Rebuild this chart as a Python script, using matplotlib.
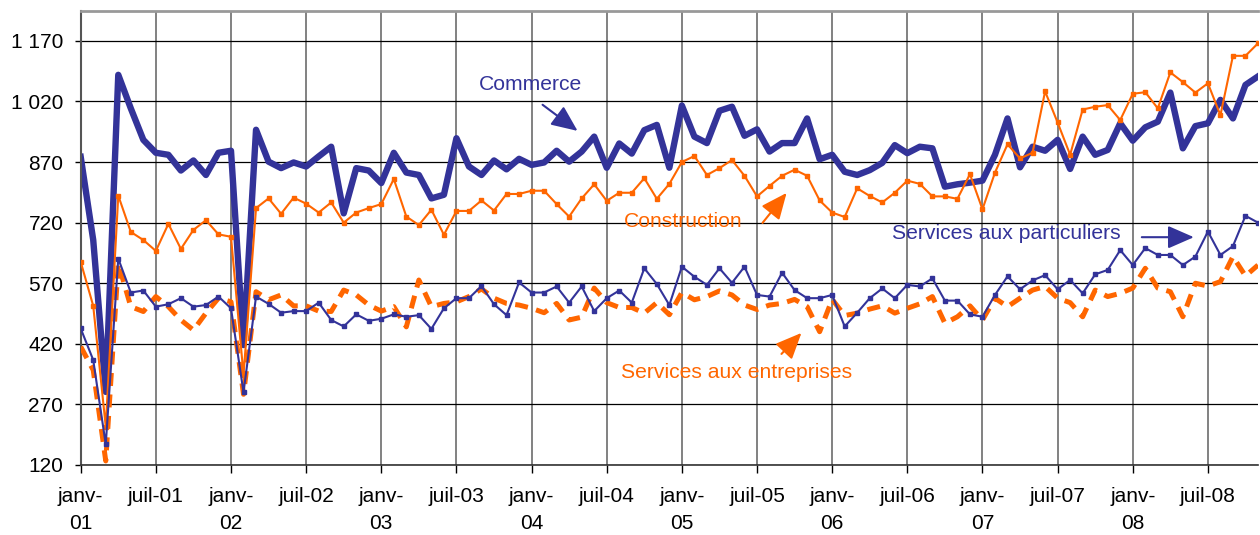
import matplotlib
matplotlib.use("Agg")
import matplotlib.pyplot as plt
import numpy as np
from matplotlib.ticker import FuncFormatter

# ── données (indices mensuels, janv-01 → nov-08) ─────────────────────────────
commerce = [
    883, 677, 301, 1086, 1003, 925, 893, 888, 849, 874, 838, 893,
    898, 417, 950, 871, 855, 869, 859, 884, 908, 743, 855, 849,
    818, 893, 844, 838, 780, 789, 929, 859, 838, 874, 852, 878,
    863, 869, 898, 871, 896, 933, 856, 916, 891, 949, 962, 856,
    1010, 933, 917, 997, 1007, 935, 951, 896, 917, 917, 978, 877,
    888, 846, 838, 850, 868, 912, 892, 908, 904, 809, 815, 819,
    824, 888, 978, 857, 908, 898, 925, 853, 933, 888, 900, 966,
    923, 956, 970, 1042, 904, 959, 966, 1024, 978, 1061, 1082,
]
construction = [
    623, 514, 215, 787, 697, 677, 650, 717, 655, 702, 726, 691,
    685, 343, 756, 780, 742, 782, 767, 745, 770, 720, 745, 756,
    766, 828, 735, 714, 752, 690, 749, 749, 775, 750, 791, 791,
    799, 799, 766, 735, 780, 815, 774, 794, 794, 830, 779, 816,
    870, 885, 838, 855, 875, 836, 785, 811, 836, 851, 836, 775,
    745, 734, 805, 786, 770, 794, 824, 816, 785, 785, 779, 840,
    753, 844, 914, 879, 893, 1045, 968, 888, 1000, 1007, 1011, 974,
    1039, 1043, 1003, 1092, 1068, 1042, 1065, 986, 1133, 1133, 1164,
]
serv_particuliers = [
    458, 380, 171, 631, 547, 552, 512, 518, 533, 512, 516, 537,
    508, 300, 537, 519, 497, 501, 501, 522, 479, 463, 493, 477,
    482, 493, 487, 491, 457, 508, 533, 533, 563, 518, 491, 572,
    547, 547, 562, 522, 562, 501, 533, 552, 522, 607, 568, 516,
    611, 586, 566, 607, 571, 611, 541, 537, 596, 553, 533, 533,
    541, 463, 497, 533, 557, 533, 566, 562, 582, 527, 527, 493,
    487, 541, 587, 555, 577, 590, 555, 578, 545, 592, 603, 652,
    615, 657, 640, 640, 615, 636, 698, 640, 662, 737, 720,
]
serv_entreprises = [
    413, 355, 130, 619, 512, 500, 537, 512, 479, 454, 496, 533,
    524, 295, 549, 529, 541, 514, 514, 501, 500, 553, 541, 516,
    501, 512, 462, 578, 512, 520, 524, 537, 556, 533, 520, 516,
    508, 497, 520, 479, 486, 558, 522, 510, 510, 496, 522, 492,
    547, 529, 537, 551, 541, 516, 505, 516, 520, 530, 512, 450,
    530, 490, 496, 506, 514, 496, 508, 519, 537, 471, 487, 514,
    479, 533, 512, 533, 553, 562, 533, 522, 487, 553, 537, 545,
    558, 607, 558, 549, 487, 570, 563, 574, 636, 588, 615,
]
tick_labels = [
    "janv-\n01", "juil-01", "janv-\n02", "juil-02", "janv-\n03", "juil-03",
    "janv-\n04", "juil-04", "janv-\n05", "juil-05", "janv-\n06", "juil-06",
    "janv-\n07", "juil-07", "janv-\n08", "juil-08",
]

BLUE = "#333399"
ORANGE = "#FF6600"

plt.rcParams["font.family"] = ["Liberation Sans", "DejaVu Sans"]

fig = plt.figure(figsize=(12.6, 5.35), dpi=100)
ax = fig.add_axes([80.7 / 1260, 70 / 535, (1258 - 80.7) / 1260, 454 / 535])

x = np.arange(len(commerce))
ax.plot(x, commerce, color=BLUE, lw=4.6, solid_joinstyle="round", zorder=2)
ax.plot(x, construction, color=ORANGE, lw=1.5, marker="s", ms=3.0, zorder=3)
ax.plot(x, serv_entreprises, color=ORANGE, lw=3.6, dashes=(2.6, 1.7), zorder=4)
ax.plot(x, serv_particuliers, color=BLUE, lw=1.5, marker="s", ms=3.0, zorder=5)

ax.set_xlim(0, 94)
ax.set_ylim(120, 1244)
ax.set_yticks(np.arange(120, 1171, 150))
ax.yaxis.set_major_formatter(FuncFormatter(lambda v, _: f"{v:,.0f}".replace(",", " ")))

ax.tick_params(axis="x", direction="out", length=6, width=1, pad=10, labelsize=15)
ax.tick_params(axis="y", direction="out", length=4.5, width=1, pad=8, labelsize=15)
ax.set_xticks(np.arange(0, 95, 6))
ax.set_xticklabels(tick_labels, linespacing=1.5)

ax.set_axisbelow(True)
ax.grid(axis="y", color="black", lw=0.9)
ax.grid(axis="x", color="#777777", lw=1.3)
ax.spines["right"].set_visible(False)
ax.spines["top"].set_color("#999999")
ax.spines["top"].set_linewidth(2)
ax.spines["left"].set_color("#555555")
ax.spines["left"].set_linewidth(1.5)
ax.spines["bottom"].set_color("#333333")
ax.spines["bottom"].set_linewidth(1.2)

arrow = "-|>,head_length=0.8,head_width=0.35"
ax.annotate("", xy=(39.85, 943), xytext=(36.7, 1016),
            arrowprops=dict(arrowstyle=arrow, color=BLUE, lw=1.5, mutation_scale=20))
ax.text(35.9, 1061, "Commerce", color=BLUE, fontsize=15.2, ha="center", va="center")

ax.annotate("", xy=(56.5, 799), xytext=(54.3, 714),
            arrowprops=dict(arrowstyle=arrow, color=ORANGE, lw=1.5, mutation_scale=20))
ax.text(48.1, 722, "Construction", color=ORANGE, fontsize=15.2, ha="center", va="center")

ax.annotate("", xy=(89.1, 684), xytext=(84.5, 684),
            arrowprops=dict(arrowstyle=arrow, color=BLUE, lw=1.5, mutation_scale=20))
ax.text(73.9, 692, "Services aux particuliers", color=BLUE, fontsize=15.2,
        ha="center", va="center")

ax.annotate("", xy=(57.7, 452), xytext=(55.8, 390),
            arrowprops=dict(arrowstyle=arrow, color=ORANGE, lw=1.5, mutation_scale=20))
ax.text(52.4, 348, "Services aux entreprises", color=ORANGE, fontsize=15.2,
        ha="center", va="center")

fig.savefig("out.png", dpi=100)
